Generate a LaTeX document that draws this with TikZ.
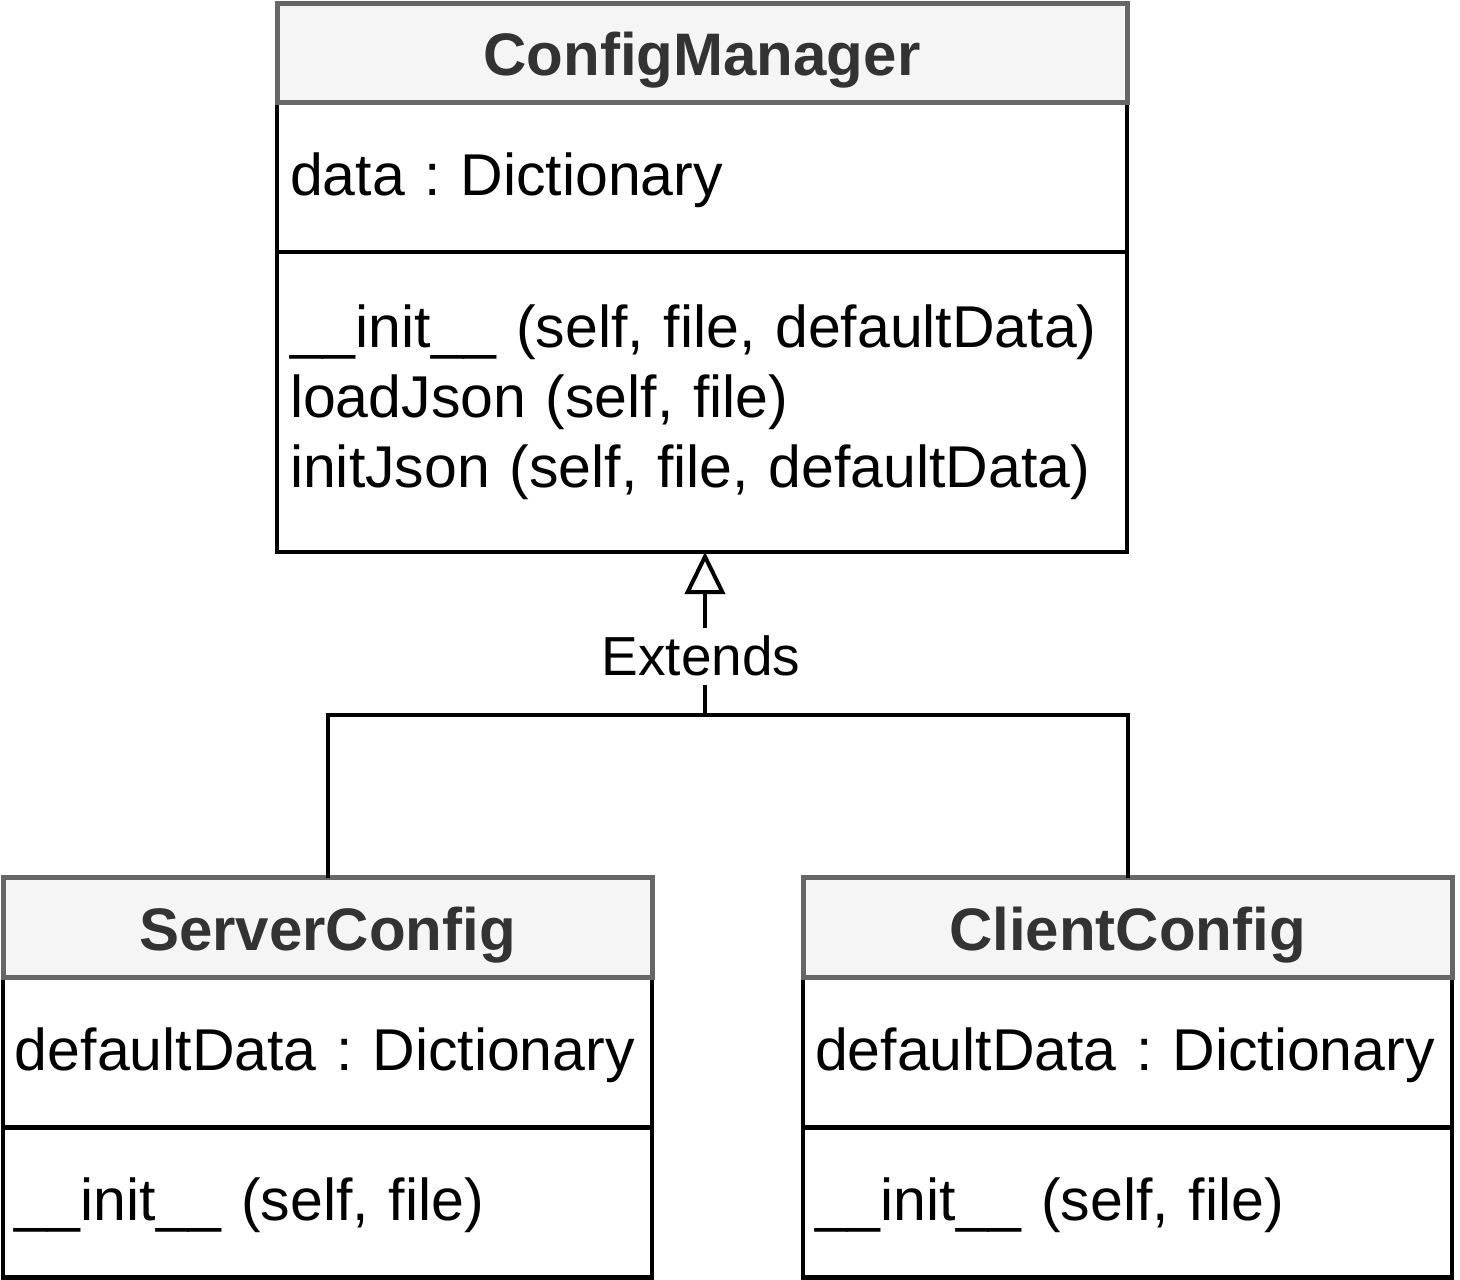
\documentclass[tikz,border=0pt]{standalone}
\usepackage{fontspec}
\setmainfont{Liberation Sans}
\usetikzlibrary{arrows.meta, positioning}
\definecolor{headfill}{HTML}{F5F5F5}
\definecolor{headline}{HTML}{666666}
\definecolor{headtext}{HTML}{333333}

\begin{document}
\begin{tikzpicture}[
    x=1pt, y=-1pt,
    node distance=0pt,
    classhead/.style={rectangle, draw=headline, fill=headfill, line width=5pt, outer sep=0pt, minimum height=99.5pt, text height=46pt, text depth=0pt, text=headtext, font=\fontsize{60pt}{70pt}\selectfont\bfseries},
    classpart/.style={rectangle, draw=black, fill=white, line width=4.5pt, outer sep=0pt, align=left, font=\fontsize{59pt}{70pt}\selectfont\frenchspacing},
    oneline/.style={text height=37pt, text depth=0pt},
    inherit/.style={line width=4pt, draw=black},
    extends/.style={-{Triangle[open, length=42pt, width=40pt, line width=4pt]}, line width=4pt, draw=black}
]
\useasboundingbox (0,0) rectangle (1460,1280);

% base class
\node (cmHead) [classhead, minimum width=850pt] at (702,52.75) {ConfigManager};
\node (cmAttr) [classpart, oneline, minimum width=850pt, minimum height=149.5pt, inner xsep=13pt, text width=824pt, below=of cmHead] {data : Dictionary};
\node (cmOps) [classpart, minimum width=850pt, minimum height=300pt, inner xsep=13pt, text width=824pt, below=of cmAttr] {\_\_init\_\_ (self, file, defaultData)\\loadJson (self, file)\\initJson (self, file, defaultData)\\[18pt]};
\node [classhead, minimum width=850pt] at (cmHead) {ConfigManager};

% subclasses
\node (scHead) [classhead, minimum width=649pt] at (327.5,927.5) {ServerConfig};
\node (scAttr) [classpart, oneline, minimum width=649pt, minimum height=150pt, inner xsep=12pt, text width=625pt, below=of scHead] {\mbox{defaultData : Dictionary}};
\node (scOps) [classpart, oneline, minimum width=649pt, minimum height=150pt, inner xsep=12pt, text width=625pt, below=of scAttr] {\_\_init\_\_ (self, file)};
\node [classhead, minimum width=649pt] at (scHead) {ServerConfig};

\node (ccHead) [classhead, minimum width=649pt] at (1127.5,927.5) {ClientConfig};
\node (ccAttr) [classpart, oneline, minimum width=649pt, minimum height=150pt, inner xsep=12pt, text width=625pt, below=of ccHead] {\mbox{defaultData : Dictionary}};
\node (ccOps) [classpart, oneline, minimum width=649pt, minimum height=150pt, inner xsep=12pt, text width=625pt, below=of ccAttr] {\_\_init\_\_ (self, file)};
\node [classhead, minimum width=649pt] at (ccHead) {ClientConfig};

% generalisation
\coordinate (target) at ([xshift=3pt]cmOps.south);
\coordinate (join) at (target |- 0,715);
\draw [inherit] (scHead.north) |- (join);
\draw [inherit] (ccHead.north) |- (join);
\draw [extends] (join) -- node[pos=0.36, xshift=-4pt, fill=white, inner xsep=2pt, inner ysep=8pt, font=\fontsize{55pt}{60pt}\selectfont] (extLabel) {Extends} (target);
\end{tikzpicture}
\end{document}
